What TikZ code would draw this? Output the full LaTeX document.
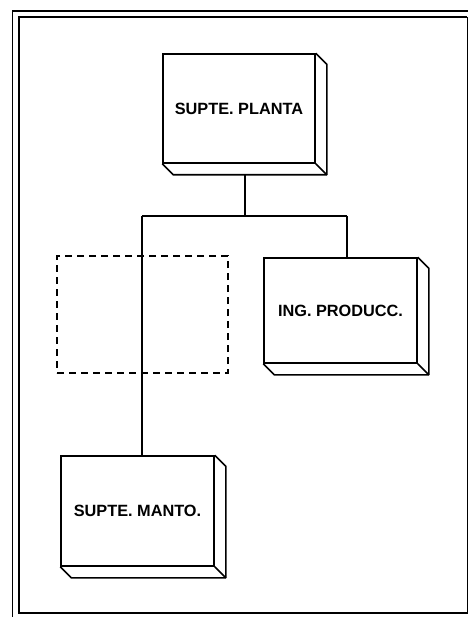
\documentclass[tikz,border=0pt]{standalone}
\usepackage{fontspec}
\setmainfont{Liberation Sans}
\usetikzlibrary{calc}
\tikzset{
  x=1pt, y=-1pt,
  front/.style={draw, line width=1.6pt, fill=white, inner sep=0pt,
    font=\fontsize{16.3}{19}\selectfont\bfseries},
  side/.style={line width=1.6pt, line join=round},
  link/.style={line width=1.5pt},
  vacant/.style={draw, line width=1.4pt, dash pattern=on 7pt off 5pt},
  frameline/.style={line width=2.4pt},
  outerline/.style={line width=1.3pt}
}
\newcommand{\depthbox}[1]{%
  \draw[side] (#1.north east) -- ++(11,11) -- ($(#1.south east)+(11,11)$) -- ($(#1.south west)+(11,11)$) -- (#1.south west);
  \draw[side] (#1.south east) -- ++(11,11);
}
\begin{document}
\begin{tikzpicture}
\useasboundingbox (0,0) rectangle (468,617);
% frame
\draw[outerline] (12.5,617) -- (12.5,11) -- (468,11);
\draw[frameline] (467,17) -- (19,17) -- (19,613) -- (468,613);
\draw[line width=0.8pt] (467.5,17) -- (467.5,613);
% boxes
\node[front, minimum width=152pt, minimum height=109pt] (p) at (239,108.5) {SUPTE. PLANTA};
\depthbox{p}
\node[front, minimum width=153pt, minimum height=105pt] (ing) at (340.5,310.5) {ING. PRODUCC.};
\depthbox{ing}
\node[front, minimum width=153pt, minimum height=110pt] (m) at (137.5,511) {SUPTE. MANTO.};
\depthbox{m}
\node[vacant, minimum width=171pt, minimum height=117pt] (vac) at (142.5,314.5) {};
% connectors
\coordinate (pb) at ($(p.south)+(6,11)$);
\coordinate (j) at (245,216);
\coordinate (jl) at (142,216);
\coordinate (jr) at (347,216);
\draw[link] (pb) -- (j);
\draw[link] (jl) -- (jr);
\draw[link] (jr) -- (jr |- ing.north);
\draw[link] (jl) -- (jl |- m.north);
\end{tikzpicture}
\end{document}
